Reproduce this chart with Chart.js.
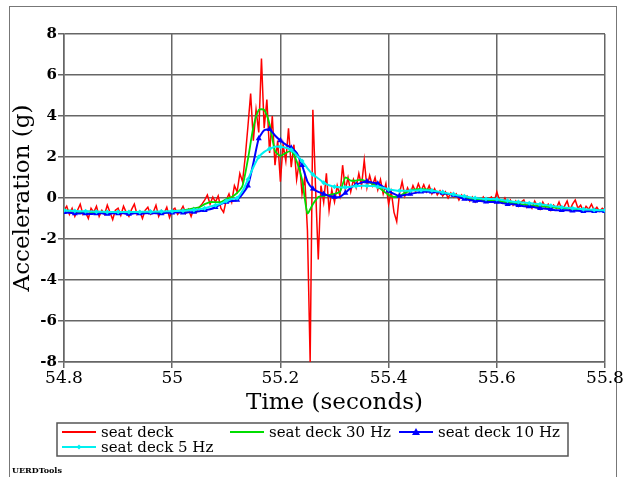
<!DOCTYPE html>
<html>
<head>
<meta charset="utf-8">
<script src="https://cdn.jsdelivr.net/npm/chart.js@4.4.1/dist/chart.umd.min.js"></script>
<style>
  body { margin: 0; background: #fff; }
  #frame { position: absolute; left: 9px; top: 6px; width: 606px; height: 480px; border: 1.5px solid #777; }
  #credit { position: absolute; left: 12px; top: 465px; font: bold 8px "DejaVu Serif"; color: #000; }
  canvas { position: absolute; left: 0; top: 0; }
</style>
</head>
<body>
<div id="frame"></div>
<canvas id="chart" width="627" height="477"></canvas>
<div id="credit">UERDTools</div>
<script>
// axis ticks
var xTicks = [54.8, 55, 55.2, 55.4, 55.6, 55.8];
var xTickLabels = ['54.8', '55', '55.2', '55.4', '55.6', '55.8'];
var yTicks = [-8, -6, -4, -2, 0, 2, 4, 6, 8];
var yTickLabels = ['-8', '-6', '-4', '-2', '0', '2', '4', '6', '8'];

// raw seat deck signal, sampled every 5 ms from 54.8 s
var rawStart = 54.8, rawStep = 0.005;
var seatDeck = [
  -0.6, -0.4, -0.8, -0.5, -0.9, -0.6, -0.3, -0.8, -0.7, -1.0,
  -0.5, -0.7, -0.4, -0.9, -0.6, -0.8, -0.35, -0.7, -1.05, -0.6,
  -0.5, -0.85, -0.4, -0.7, -0.9, -0.55, -0.3, -0.8, -0.65, -1.0,
  -0.6, -0.45, -0.8, -0.7, -0.35, -0.9, -0.6, -0.75, -0.45, -0.95,
  -0.6, -0.5, -0.8, -0.65, -0.4, -0.75, -0.55, -0.9, -0.5, -0.7,
  -0.45, -0.3, -0.1, 0.15, -0.3, 0.05, -0.2, 0.1, -0.5, -0.7,
  -0.1, 0.2, -0.2, 0.6, 0.3, 1.2, 0.8, 2.0, 3.5, 5.1,
  2.8, 4.3, 3.2, 6.8, 3.4, 4.8, 2.2, 4.0, 1.6, 2.8,
  0.8, 2.6, 1.8, 3.4, 1.5, 2.6, 0.9, 1.8, 0.2, 1.0,
  -1.6, -8.0, 4.3, 0.5, -3.0, 0.6, -0.2, 1.2, -0.6, 0.4,
  -0.2, 0.6, 0.1, 1.6, 0.4, 1.0, 0.3, 0.9, 0.5, 1.2,
  0.6, 1.85, 0.5, 1.1, 0.6, 1.0, 0.4, 0.9, 0.2, 0.7,
  -0.3, 0.3, -0.7, -1.15, 0.2, 0.8, 0.1, 0.5, 0.2, 0.6,
  0.3, 0.7, 0.35, 0.65, 0.3, 0.6, 0.2, 0.45, 0.15, 0.35,
  0.1, 0.3, 0.0, 0.25, 0.05, 0.2, -0.1, 0.15, -0.05, 0.1,
  -0.15, 0.05, -0.2, 0.0, -0.15, 0.05, -0.2, -0.05, 0.05, -0.2,
  0.3, -0.1, -0.25, 0.0, -0.3, -0.1, -0.35, -0.15, -0.4, -0.2,
  -0.1, -0.45, -0.25, -0.5, -0.15, -0.4, -0.55, -0.2, -0.45, -0.3,
  -0.6, -0.35, -0.5, -0.2, -0.55, -0.4, -0.15, -0.6, -0.3, -0.1,
  -0.5, -0.35, -0.65, -0.4, -0.55, -0.3, -0.6, -0.45, -0.65, -0.5,
  -0.6
];

// filtered signals, every 10 ms from 54.8 s
var filtStart = 54.8, filtStep = 0.01;
var seatDeck30 = [
  -0.6, -0.62, -0.65, -0.7, -0.65, -0.68, -0.7, -0.66, -0.7, -0.72,
  -0.7, -0.68, -0.72, -0.7, -0.68, -0.72, -0.7, -0.68, -0.72, -0.7,
  -0.65, -0.62, -0.6, -0.55, -0.5, -0.45, -0.3, -0.2, -0.2, -0.2,
  -0.05, 0.05, 0.25, 0.6, 1.9, 3.45, 4.3, 4.3, 3.6, 2.3,
  2.05, 2.2, 2.3, 1.8, 0.9, -0.75, -0.3, 0.05, 0.1, 0.15,
  0.2, 0.3, 1.0, 0.85, 0.85, 0.9, 0.8, 0.7, 0.55, 0.35,
  0.15, 0.05, 0.1, 0.25, 0.35, 0.42, 0.45, 0.42, 0.38, 0.3,
  0.25, 0.2, 0.15, 0.08, 0.0, -0.05, -0.08, -0.1, -0.12, -0.1,
  -0.12, -0.18, -0.22, -0.25, -0.3, -0.32, -0.35, -0.38, -0.4, -0.42,
  -0.45, -0.48, -0.5, -0.52, -0.52, -0.55, -0.55, -0.58, -0.6, -0.6,
  -0.62
];
var seatDeck10 = [
  -0.7, -0.72, -0.75, -0.75, -0.75, -0.78, -0.75, -0.75, -0.78, -0.75,
  -0.75, -0.75, -0.78, -0.75, -0.75, -0.75, -0.72, -0.75, -0.75, -0.72,
  -0.72, -0.7, -0.72, -0.7, -0.68, -0.65, -0.6, -0.55, -0.45, -0.3,
  -0.2, -0.15, -0.1, 0.2, 0.6, 1.7, 2.9, 3.3, 3.35, 3.05,
  2.8, 2.6, 2.45, 2.2, 1.6, 0.8, 0.45, 0.3, 0.2, 0.1,
  0.05, 0.05, 0.25, 0.5, 0.65, 0.75, 0.8, 0.75, 0.7, 0.55,
  0.35, 0.2, 0.1, 0.15, 0.2, 0.25, 0.3, 0.3, 0.3, 0.28,
  0.25, 0.2, 0.15, 0.05, -0.05, -0.1, -0.15, -0.15, -0.18, -0.2,
  -0.2, -0.25, -0.3, -0.3, -0.35, -0.4, -0.42, -0.45, -0.5, -0.52,
  -0.55, -0.6, -0.6, -0.6, -0.62, -0.62, -0.65, -0.65, -0.65, -0.65,
  -0.65
];
var seatDeck5 = [
  -0.6, -0.62, -0.63, -0.65, -0.65, -0.66, -0.67, -0.67, -0.68, -0.68,
  -0.68, -0.68, -0.68, -0.68, -0.68, -0.67, -0.67, -0.66, -0.66, -0.65,
  -0.65, -0.63, -0.62, -0.6, -0.58, -0.55, -0.5, -0.42, -0.35, -0.28,
  -0.15, -0.05, 0.0, 0.35, 0.9, 1.5, 2.0, 2.25, 2.4, 2.5,
  2.5, 2.45, 2.35, 2.1, 1.8, 1.45, 1.15, 0.95, 0.75, 0.62,
  0.55, 0.52, 0.52, 0.55, 0.58, 0.6, 0.6, 0.58, 0.55, 0.5,
  0.42, 0.38, 0.35, 0.35, 0.35, 0.37, 0.38, 0.38, 0.36, 0.32,
  0.28, 0.22, 0.18, 0.12, 0.08, 0.04, 0.0, -0.02, -0.05, -0.05,
  -0.06, -0.1, -0.14, -0.18, -0.2, -0.22, -0.25, -0.28, -0.3, -0.34,
  -0.38, -0.42, -0.45, -0.48, -0.5, -0.52, -0.55, -0.56, -0.58, -0.6,
  -0.6
];

function toPoints(start, step, values) {
  return values.map(function(v, i) {
    return { x: +(start + i * step).toFixed(3), y: v };
  });
}

var FONT = 'DejaVu Serif';
var GRID = '#666';

// every other sample gets a marker
function everyOther(r) {
  return function(c) { return c.dataIndex % 2 === 0 ? r : 0; };
}

// legend box drawn under the axis title
var legendBox = {
  id: 'legendBox',
  afterDraw: function(chart) {
    var ctx = chart.ctx;
    var ds = chart.data.datasets;
    ctx.save();
    ctx.strokeStyle = '#555';
    ctx.lineWidth = 1.5;
    ctx.strokeRect(57, 423, 511, 33);
    var items = [
      { x: 62, y: 432, d: ds[0] },
      { x: 230, y: 432, d: ds[1] },
      { x: 399, y: 432, d: ds[2] },
      { x: 62, y: 447, d: ds[3] }
    ];
    ctx.font = '15px "' + FONT + '"';
    ctx.textBaseline = 'middle';
    items.forEach(function(it) {
      var d = it.d;
      ctx.strokeStyle = d.borderColor;
      ctx.lineWidth = 2;
      ctx.beginPath();
      ctx.moveTo(it.x, it.y);
      ctx.lineTo(it.x + 34, it.y);
      ctx.stroke();
      if (d.pointStyle === 'triangle') {
        ctx.fillStyle = d.borderColor;
        ctx.beginPath();
        ctx.moveTo(it.x + 17, it.y - 4);
        ctx.lineTo(it.x + 21, it.y + 3);
        ctx.lineTo(it.x + 13, it.y + 3);
        ctx.closePath();
        ctx.fill();
      } else if (d.pointStyle === 'rectRot') {
        ctx.fillStyle = d.borderColor;
        ctx.beginPath();
        ctx.moveTo(it.x + 17, it.y - 2.5);
        ctx.lineTo(it.x + 19.5, it.y);
        ctx.lineTo(it.x + 17, it.y + 2.5);
        ctx.lineTo(it.x + 14.5, it.y);
        ctx.closePath();
        ctx.fill();
      }
      ctx.fillStyle = '#000';
      ctx.fillText(d.label, it.x + 39, it.y + 1);
    });
    ctx.restore();
  }
};

var ctx = document.getElementById('chart').getContext('2d');
var myChart = new Chart(ctx, {
  type: 'line',
  data: {
    datasets: [{
      label: 'seat deck',
      data: toPoints(rawStart, rawStep, seatDeck),
      borderColor: '#ff0000',
      borderWidth: 1.5,
      pointRadius: 0,
      order: 4
    }, {
      label: 'seat deck 30 Hz',
      data: toPoints(filtStart, filtStep, seatDeck30),
      borderColor: '#00dd00',
      borderWidth: 1.8,
      pointRadius: 0,
      tension: 0.2,
      order: 3
    }, {
      label: 'seat deck 10 Hz',
      data: toPoints(filtStart, filtStep, seatDeck10),
      borderColor: '#0000ff',
      backgroundColor: '#0000ff',
      borderWidth: 2,
      pointStyle: 'triangle',
      pointRadius: everyOther(3.5),
      pointBorderWidth: 0,
      tension: 0.2,
      order: 2
    }, {
      label: 'seat deck 5 Hz',
      data: toPoints(filtStart, filtStep, seatDeck5),
      borderColor: '#00f0f0',
      backgroundColor: '#00f0f0',
      borderWidth: 2,
      pointStyle: 'rectRot',
      pointRadius: everyOther(2.5),
      pointBorderWidth: 0,
      tension: 0.2,
      order: 1
    }]
  },
  options: {
    responsive: false,
    animation: false,
    devicePixelRatio: 1,
    layout: { padding: { left: 0, top: 34, right: 22, bottom: 60 } },
    plugins: {
      legend: { display: false },
      tooltip: { enabled: false }
    },
    scales: {
      x: {
        type: 'linear',
        min: 54.8,
        max: 55.8,
        afterBuildTicks: function(scale) {
          scale.ticks = xTicks.map(function(v) { return { value: v }; });
        },
        afterFit: function(scale) { scale.height = 55; },
        ticks: {
          maxRotation: 0,
          autoSkip: false,
          padding: 0,
          color: '#000',
          font: { family: FONT, size: 17 },
          callback: function(value, index) { return xTickLabels[index]; }
        },
        grid: { color: GRID, lineWidth: 1.5, tickLength: 6 },
        border: { color: GRID, width: 1.5 },
        title: {
          display: true,
          text: 'Time (seconds)',
          color: '#000',
          font: { family: FONT, size: 23 },
          padding: { top: 0, bottom: 0 }
        }
      },
      y: {
        min: -8,
        max: 8,
        afterBuildTicks: function(scale) {
          scale.ticks = yTicks.map(function(v) { return { value: v }; });
        },
        afterFit: function(scale) { scale.width = 64; },
        ticks: {
          padding: 1,
          color: '#000',
          font: { family: FONT, size: 15, weight: 'bold' },
          callback: function(value, index) { return yTickLabels[index]; }
        },
        grid: { color: GRID, lineWidth: 1.5, tickLength: 6 },
        border: { color: GRID, width: 1.5 },
        title: {
          display: true,
          text: 'Acceleration (g)',
          color: '#000',
          font: { family: FONT, size: 23 },
          padding: { top: 9, bottom: 0 }
        }
      }
    }
  },
  plugins: [legendBox]
});
</script>
</body>
</html>
